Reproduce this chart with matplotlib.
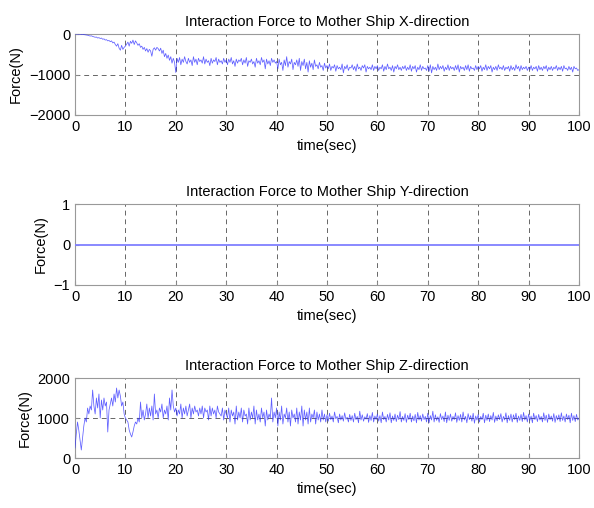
import matplotlib
matplotlib.use("Agg")
import matplotlib.pyplot as plt
import numpy as np

plt.rcParams['font.family'] = ['Liberation Sans', 'DejaVu Sans']

time_step = 0.25

force_x = [
    0, 0, 0, -5, 0, -10, -5, -15, -20, -25, -30, -40, -50, -45, -60, -70, -80, -75, -100, -90,
    -110, -100, -130, -120, -150, -140, -170, -160, -190, -170, -220, -200, -260, -300, -240, -350, -400, -280, -380, -330,
    -300, -250, -200, -300, -180, -230, -150, -260, -170, -220, -280, -240, -330, -300, -380, -330, -420, -360, -450, -380,
    -420, -550, -380, -340, -400, -330, -360, -420, -350, -480, -400, -560, -480, -600, -520, -650, -560, -720, -600, -700,
    -950, -600, -700, -580, -760, -620, -700, -560, -680, -740, -600, -700, -640, -780, -560, -700, -620, -760, -600, -680,
    -640, -720, -560, -740, -620, -700, -660, -780, -600, -720, -640, -680, -580, -760, -620, -700, -660, -740, -600, -700,
    -640, -760, -620, -700, -580, -740, -660, -800, -620, -720, -640, -680, -600, -760, -640, -720, -580, -800, -660, -700,
    -620, -740, -680, -820, -600, -720, -660, -760, -580, -700, -640, -860, -620, -740, -660, -780, -600, -700, -640, -720,
    -680, -860, -620, -760, -700, -900, -640, -780, -560, -820, -680, -740, -620, -880, -700, -760, -640, -800, -600, -900,
    -680, -780, -620, -860, -700, -940, -660, -820, -720, -880, -640, -800, -760, -860, -700, -820, -780, -900, -720, -840,
    -780, -860, -740, -900, -800, -840, -760, -920, -780, -860, -820, -880, -740, -960, -800, -860, -760, -900, -820, -840,
    -760, -880, -800, -920, -740, -860, -820, -900, -780, -840, -760, -940, -800, -860, -820, -880, -760, -900, -800, -860,
    -780, -900, -820, -860, -760, -920, -800, -880, -740, -860, -820, -900, -780, -940, -800, -860, -760, -880, -820, -900,
    -800, -860, -780, -900, -820, -880, -760, -920, -800, -860, -780, -940, -820, -880, -760, -900, -800, -860, -840, -900,
    -780, -920, -760, -960, -800, -880, -820, -900, -740, -880, -800, -860, -780, -920, -820, -880, -760, -900, -800, -860,
    -820, -900, -780, -880, -760, -940, -800, -860, -820, -900, -780, -880, -760, -920, -800, -860, -840, -900, -780, -880,
    -800, -860, -780, -920, -820, -880, -760, -900, -800, -860, -780, -940, -820, -880, -800, -900, -760, -860, -820, -880,
    -780, -900, -820, -860, -800, -920, -780, -880, -820, -900, -760, -860, -800, -920, -780, -880, -820, -860, -800, -900,
    -820, -880, -780, -900, -820, -860, -800, -920, -780, -880, -820, -900, -800, -860, -780, -920, -820, -880, -800, -900,
    -820, -860, -780, -900, -820, -880, -800, -920, -780, -860, -840, -900, -800, -880, -820, -940, -800, -860, -840, -900,
    -880,
]

force_y = [0, 0]
force_y_time = [0, 100]

force_z = [
    250, 600, 900, 700, 450, 200, 500, 800, 1000, 900, 1250, 1100, 1300, 1200, 1700, 1300, 1100, 1500, 1250, 1600,
    1000, 1450, 1200, 1500, 1300, 1400, 650, 1200, 1350, 1500, 1300, 1600, 1400, 1750, 1500, 1700, 1550, 1300, 1400, 1100,
    1000, 950, 900, 700, 600, 525, 650, 800, 900, 850, 1000, 900, 1400, 1000, 1200, 950, 1100, 1350, 1000, 1250,
    1050, 1300, 950, 1600, 1100, 1200, 1000, 1250, 1150, 1350, 1000, 1200, 1100, 1300, 950, 1500, 1200, 1700, 1300, 1150,
    1250, 1050, 1200, 1100, 1350, 1000, 1250, 1100, 1300, 1050, 1200, 1350, 1000, 1250, 1100, 1300, 1150, 1200, 1050, 1250,
    1100, 1300, 1000, 1250, 1150, 1200, 950, 1300, 1050, 1250, 1100, 1200, 1000, 1300, 1150, 1100, 1050, 1250, 950, 1200,
    1100, 1000, 1250, 900, 1200, 1050, 1150, 850, 1300, 950, 1150, 1000, 1250, 900, 1200, 1050, 1100, 850, 1250, 950,
    1150, 1000, 1300, 850, 1200, 950, 1100, 900, 1250, 1000, 1150, 800, 1200, 950, 1100, 1000, 1500, 900, 1150, 1000,
    1250, 800, 1150, 950, 1300, 850, 1100, 1000, 1250, 900, 1150, 800, 1200, 1000, 1100, 900, 1250, 850, 1150, 950,
    1300, 800, 1200, 950, 1150, 850, 1250, 900, 1100, 1000, 1200, 850, 1150, 950, 1100, 900, 1200, 950, 1100, 900,
    1080, 920, 1120, 960, 1050, 900, 1150, 980, 1040, 880, 1100, 950, 1060, 920, 1130, 970, 1020, 900, 1090, 940,
    1060, 900, 1120, 960, 1040, 880, 1170, 950, 1080, 920, 1030, 970, 1110, 890, 1060, 940, 1140, 900, 1050, 960,
    1100, 920, 1060, 880, 1150, 960, 1040, 900, 1090, 950, 1130, 880, 1050, 940, 1100, 910, 1070, 960, 1160, 900,
    1040, 940, 1110, 890, 1070, 960, 1120, 900, 1050, 930, 1090, 880, 1140, 950, 1060, 920, 1100, 960, 1040, 900,
    1120, 880, 1060, 950, 1170, 900, 1080, 940, 1030, 890, 1110, 960, 1050, 910, 1150, 880, 1070, 940, 1100, 920,
    1040, 960, 1130, 890, 1060, 940, 1090, 900, 1150, 950, 1040, 880, 1110, 960, 1060, 920, 1120, 870, 1050, 950,
    1090, 900, 1040, 960, 1120, 880, 1070, 940, 1100, 910, 1060, 950, 1140, 890, 1050, 930, 1080, 960, 1110, 900,
    1040, 950, 1130, 880, 1060, 940, 1100, 900, 1080, 960, 1120, 890, 1050, 940, 1090, 910, 1140, 950, 1060, 900,
    1100, 940, 1050, 880, 1120, 960, 1060, 910, 1090, 950, 1040, 900, 1130, 940, 1070, 890, 1100, 960, 1050, 920,
    1110, 890, 1060, 950, 1080, 910, 1130, 940, 1050, 900, 1100, 960, 1070, 880, 1120, 940, 1060, 910, 1090, 950,
    1000,
]

titles = [
    "Interaction Force to Mother Ship X-direction",
    "Interaction Force to Mother Ship Y-direction",
    "Interaction Force to Mother Ship Z-direction",
]
xticks = [0, 10, 20, 30, 40, 50, 60, 70, 80, 90, 100]
yticks_x = [-2000, -1000, 0]
yticks_y = [-1, 0, 1]
yticks_z = [0, 1000, 2000]

t = np.arange(len(force_x)) * time_step

fig = plt.figure(figsize=(5.94, 5.08), dpi=100)
left = 75 / 594
width = (579 - 75) / 594
H = 508
boxes = [(34, 115), (204, 285), (378, 458)]

series = [
    (t, force_x, yticks_x, 0.55, '#2a2aff', 0.75),
    (force_y_time, force_y, yticks_y, 1.3, '#8080ff', 1.0),
    (t, force_z, yticks_z, 0.55, '#2a2aff', 0.75),
]
for i, ((top, bot), title, (tx, ys, yt, lw, col, al)) in enumerate(zip(boxes, titles, series)):
    ax = fig.add_axes([left, 1 - bot / H, width, (bot - top) / H])
    ax.plot(tx, ys, color=col, lw=lw, alpha=al, zorder=3)
    ax.set_xlim(0, 100)
    ax.set_ylim(yt[0], yt[-1])
    ax.set_xticks(xticks)
    ax.set_yticks(yt)
    ax.grid(True, linestyle=(0, (5, 4)), color='#666666', lw=0.7, zorder=1)
    if i == 1:
        ax.yaxis.grid(False)
    ax.tick_params(direction='in', length=3, labelsize=10.5, color='#888888')
    for s in ax.spines.values():
        s.set_color('#999999')
        s.set_linewidth(0.8)
    ax.set_title(title, fontsize=10.5, pad=6)
    ax.set_xlabel("time(sec)", fontsize=10.5)
    ax.set_ylabel("Force(N)", fontsize=10.5)

fig.savefig("out.png", dpi=100)
